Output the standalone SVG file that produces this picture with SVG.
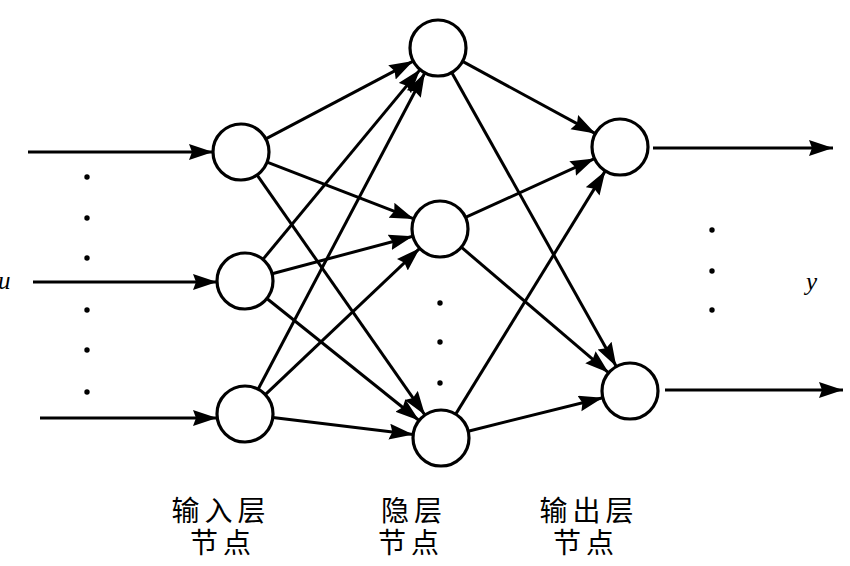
<svg xmlns="http://www.w3.org/2000/svg" width="850" height="566" viewBox="0 0 850 566">
<defs>
<marker id="ah" markerUnits="userSpaceOnUse" markerWidth="26" markerHeight="18" refX="24" refY="8" orient="auto">
<path d="M0,0 L24,8 L0,16 L3,8 z" fill="#000"/>
</marker>
<style>
.n{fill:#fff;stroke:#000;stroke-width:3.2}
.c{stroke:#000;stroke-width:3;fill:none;marker-end:url(#ah)}
.d{fill:#000}
.lbl{font-family:"Noto Sans CJK SC","Noto Sans",sans-serif;font-size:28px;letter-spacing:5px;fill:#000;text-anchor:middle}
.v{font-family:"Liberation Serif",serif;font-style:italic;font-size:25px;fill:#000}
</style>
</defs>
<rect width="850" height="566" fill="#fff"/>
<g id="connectors">
<line class="c" x1="28" y1="152" x2="213" y2="152"/>
<line class="c" x1="33" y1="282" x2="217" y2="282"/>
<line class="c" x1="40" y1="418" x2="217" y2="418"/>
<line class="c" x1="265.8" y1="138.9" x2="413.2" y2="61.1"/>
<line class="c" x1="267.1" y1="162.1" x2="413.9" y2="218.9"/>
<line class="c" x1="257.0" y1="174.9" x2="425.0" y2="415.1"/>
<line class="c" x1="262.9" y1="259.4" x2="420.1" y2="69.6"/>
<line class="c" x1="272.1" y1="273.8" x2="412.9" y2="236.2"/>
<line class="c" x1="266.9" y1="298.5" x2="419.1" y2="420.5"/>
<line class="c" x1="258.1" y1="389.2" x2="424.9" y2="72.8"/>
<line class="c" x1="265.3" y1="394.7" x2="419.7" y2="248.3"/>
<line class="c" x1="272.8" y1="417.4" x2="413.2" y2="434.6"/>
<line class="c" x1="462.6" y1="61.4" x2="595.4" y2="133.6"/>
<line class="c" x1="451.7" y1="72.4" x2="616.3" y2="366.6"/>
<line class="c" x1="465.5" y1="217.4" x2="594.5" y2="158.6"/>
<line class="c" x1="461.3" y1="247.2" x2="608.7" y2="372.8"/>
<line class="c" x1="455.7" y1="414.1" x2="605.3" y2="170.9"/>
<line class="c" x1="468.2" y1="431.2" x2="602.8" y2="397.8"/>
<line class="c" x1="653" y1="148" x2="833" y2="148"/>
<line class="c" x1="665" y1="390" x2="843" y2="390"/>
</g>
<g id="in1"><circle class="n" cx="241" cy="152" r="28"/></g>
<g id="in2"><circle class="n" cx="245" cy="281" r="28"/></g>
<g id="in3"><circle class="n" cx="245" cy="414" r="28"/></g>
<g id="h1"><circle class="n" cx="438" cy="48" r="28"/></g>
<g id="h2"><circle class="n" cx="440" cy="229" r="28"/></g>
<g id="h3"><circle class="n" cx="441" cy="438" r="28"/></g>
<g id="o1"><circle class="n" cx="620" cy="147" r="28"/></g>
<g id="o2"><circle class="n" cx="630" cy="391" r="28"/></g>
<g id="dots">
<circle class="d" cx="87" cy="177" r="2.7"/>
<circle class="d" cx="87" cy="218" r="2.7"/>
<circle class="d" cx="87" cy="258" r="2.7"/>
<circle class="d" cx="87" cy="310" r="2.7"/>
<circle class="d" cx="87" cy="350" r="2.7"/>
<circle class="d" cx="87" cy="392" r="2.7"/>
<circle class="d" cx="440" cy="303" r="2.7"/>
<circle class="d" cx="440" cy="342" r="2.7"/>
<circle class="d" cx="440" cy="383" r="2.7"/>
<circle class="d" cx="712" cy="230" r="2.7"/>
<circle class="d" cx="712" cy="271" r="2.7"/>
<circle class="d" cx="712" cy="310" r="2.7"/>
</g>
<g id="labels">
<text class="v" x="-2" y="289">u</text>
<text class="v" x="806" y="290">y</text>
<text class="lbl" x="221" y="521">输入层</text>
<text class="lbl" x="223" y="553">节点</text>
<text class="lbl" x="414" y="521">隐层</text>
<text class="lbl" x="411" y="553">节点</text>
<text class="lbl" x="589" y="521">输出层</text>
<text class="lbl" x="586" y="553">节点</text>
</g>
</svg>
